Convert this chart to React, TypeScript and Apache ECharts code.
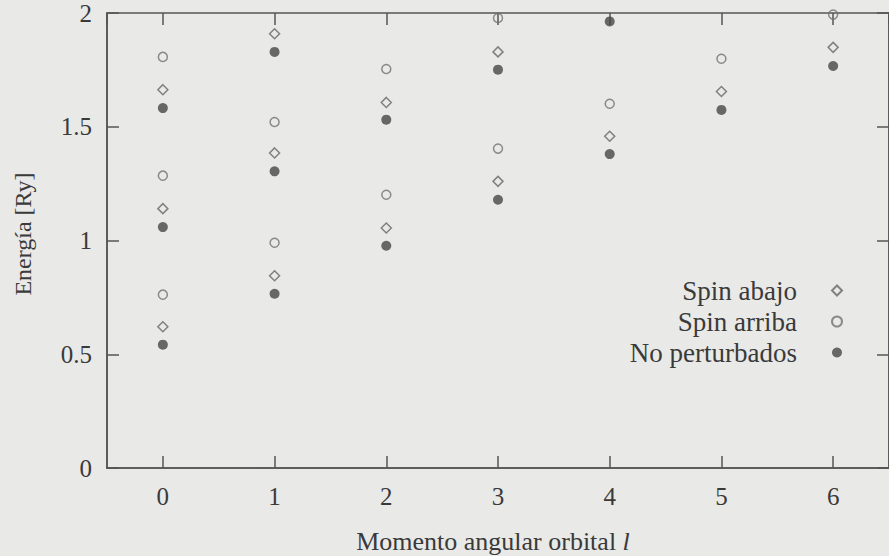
import React, { useEffect, useRef } from "react";
import * as echarts from "echarts";

const L_CATEGORIES = ["0", "1", "2", "3", "4", "5", "6"];
const Y_TICKS = [0, 0.5, 1, 1.5, 2];

// [l, energy in Ry]
const SPIN_ABAJO: [number, number][] = [
  [0, 1.663], [0, 1.14], [0, 0.621],
  [1, 1.909], [1, 1.385], [1, 0.845],
  [2, 1.607], [2, 1.055],
  [3, 1.829], [3, 1.26],
  [4, 1.458],
  [5, 1.655],
  [6, 1.849],
];
const SPIN_ARRIBA: [number, number][] = [
  [0, 1.807], [0, 1.285], [0, 0.762],
  [1, 1.521], [1, 0.99],
  [2, 1.754], [2, 1.201],
  [3, 1.978], [3, 1.404],
  [4, 1.601],
  [5, 1.799],
  [6, 1.993],
];
const NO_PERTURBADOS: [number, number][] = [
  [0, 1.582], [0, 1.059], [0, 0.542],
  [1, 1.829], [1, 1.304], [1, 0.766],
  [2, 1.531], [2, 0.977],
  [3, 1.751], [3, 1.179],
  [4, 1.963], [4, 1.38],
  [5, 1.574],
  [6, 1.767],
];

const BG = "#e9e9e7";
const AXIS = "#555555";
const TEXT = "#3a3a3a";
const FONT = "'Liberation Serif', 'DejaVu Serif', serif";

export default function App() {
  const ref = useRef<HTMLDivElement>(null);
  useEffect(() => {
    document.body.style.margin = "0";
    if (!ref.current) return;
    const chart = echarts.init(ref.current, null, { renderer: "svg" });
    const lineStyle = { color: AXIS, width: 1.5 };
    const yBase = {
      type: "value" as const,
      gridIndex: 0,
      min: Y_TICKS[0],
      max: Y_TICKS[Y_TICKS.length - 1],
      interval: 0.5,
      axisLine: { show: true, onZero: false, lineStyle },
      axisTick: { show: true, inside: true, length: 12, lineStyle },
      splitLine: { show: false },
    };
    chart.setOption({
      animation: false,
      backgroundColor: BG,
      grid: [
        {
          left: 107,
          top: 13,
          width: 790,
          height: 455,
          show: true,
          borderColor: AXIS,
          borderWidth: 1.5,
          backgroundColor: "transparent",
        },
        // thin strip above the plot: its bottom axis draws the mirrored top ticks
        { left: 107, top: 1, width: 790, height: 12, show: false },
      ],
      xAxis: [
        {
          type: "category",
          gridIndex: 0,
          data: L_CATEGORIES,
          boundaryGap: true,
          position: "bottom",
          axisLine: { show: true, onZero: false, lineStyle },
          axisTick: { show: true, inside: true, length: 12, alignWithLabel: true, interval: 0, lineStyle },
          splitLine: { show: false },
          axisLabel: { show: true, interval: 0, margin: 16, fontFamily: FONT, fontSize: 25, color: TEXT },
        },
        {
          type: "value",
          gridIndex: 1,
          min: -0.5,
          max: L_CATEGORIES.length - 0.5,
          minInterval: 1,
          maxInterval: 1,
          position: "bottom",
          axisLine: { show: false, onZero: false },
          axisTick: { show: true, inside: false, length: 12, lineStyle },
          splitLine: { show: false },
          axisLabel: { show: false },
        },
      ],
      yAxis: [
        {
          ...yBase,
          position: "left",
          axisLabel: {
            margin: 15,
            fontFamily: FONT,
            fontSize: 25,
            color: TEXT,
            formatter: (v: number) => String(v),
          },
        },
        { ...yBase, position: "right", axisLabel: { show: false } },
        { type: "value", gridIndex: 1, show: false, min: 0, max: 1 },
      ],
      legend: {
        orient: "vertical",
        align: "right",
        right: 41,
        top: 272,
        itemGap: 4,
        itemWidth: 10,
        itemHeight: 10,
        textStyle: {
          fontFamily: FONT,
          fontSize: 27,
          color: TEXT,
          lineHeight: 27,
          padding: [0, 30, 0, 0],
        },
        data: ["Spin abajo", "Spin arriba", "No perturbados"],
      },
      graphic: [
        {
          type: "text",
          x: 493,
          y: 541,
          style: {
            text: "{a|Momento angular orbital }{b|l}",
            align: "center",
            verticalAlign: "middle",
            rich: {
              a: { fontFamily: FONT, fontSize: 26, fill: TEXT },
              b: { fontFamily: FONT, fontSize: 26, fill: TEXT, fontStyle: "italic" },
            },
          },
        },
        {
          type: "text",
          x: 23,
          y: 234,
          rotation: Math.PI / 2,
          style: {
            text: "Energía [Ry]",
            fontFamily: FONT,
            fontSize: 24,
            fill: TEXT,
            align: "center",
            verticalAlign: "middle",
          },
        },
      ],
      series: [
        {
          name: "Spin abajo",
          type: "scatter",
          xAxisIndex: 0,
          yAxisIndex: 0,
          symbol: "diamond",
          symbolSize: 10,
          clip: false,
          itemStyle: { color: "transparent", borderColor: "#666666", borderWidth: 1.5 },
          data: SPIN_ABAJO,
        },
        {
          name: "Spin arriba",
          type: "scatter",
          xAxisIndex: 0,
          yAxisIndex: 0,
          symbol: "circle",
          symbolSize: 9,
          clip: false,
          itemStyle: { color: "transparent", borderColor: "#707070", borderWidth: 1.5 },
          data: SPIN_ARRIBA,
        },
        {
          name: "No perturbados",
          type: "scatter",
          xAxisIndex: 0,
          yAxisIndex: 0,
          symbol: "circle",
          symbolSize: 10,
          clip: false,
          itemStyle: { color: "#464646" },
          data: NO_PERTURBADOS,
        },
      ],
    });
    return () => chart.dispose();
  }, []);
  return <div ref={ref} style={{ width: 889, height: 556 }} />;
}
